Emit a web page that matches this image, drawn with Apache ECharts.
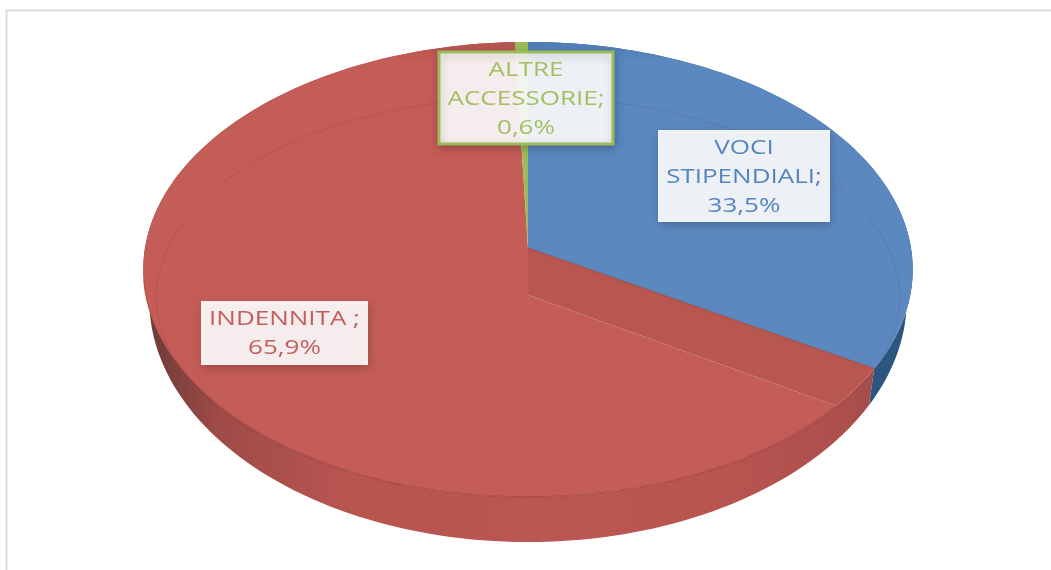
<!DOCTYPE html>
<html>
<head>
<meta charset="utf-8">
<script src="https://cdn.jsdelivr.net/npm/echarts@6/dist/echarts.min.js"></script>
<style>html,body{margin:0;padding:0;background:#fff;overflow:hidden}#c{width:1051px;height:570px;filter:blur(0.6px)}</style>
</head>
<body>
<div id="c"></div>
<script>
// --- data ---
const categories = ['VOCI STIPENDIALI', 'INDENNITA', 'ALTRE ACCESSORIE'];
const shares = [33.5, 65.9, 0.6];
const labelTexts = ['VOCI\nSTIPENDIALI;\n33,5%', 'INDENNITA ;\n65,9%', 'ALTRE\nACCESSORIE;\n0,6%'];

// --- style / view settings ---
const textColors = ['#5585bd', '#c4605c', '#a3c064'];
const labelBoxes = [[658, 130, 172, 92], [201, 301, 167, 64], [439, 52, 174, 92]];
const persp = 0.0945, cx = 528;
const topLayer = {R: 383, s: 225.5, y: 248};
const baseLayer = {R: 377, s: 240, y: 277};
const ringLayer = {R: 370, s: 198, y: 278};
const redFaceDrop = 47, wedgeSweep = 10.4;

function proj(deg, L) {
  const a = deg * Math.PI / 180, X = Math.sin(a), Z = Math.cos(a), w = 1 + persp * Z;
  return [cx + L.R * X / w, L.y - L.s * Z / w];
}
function arc(from, to, L) {
  const n = Math.max(2, Math.ceil(Math.abs(to - from) / 1.5)), out = [];
  for (let i = 0; i <= n; i++) out.push(proj(from + (to - from) * i / n, L));
  return out;
}
let acc = 0;
const spans = shares.map(v => { const s = acc; acc += v; return [s * 3.6, acc * 3.6]; });

function grad(stops) {
  return {type: 'linear', x: 144, y: 0, x2: 914, y2: 0, global: true,
    colorStops: stops.map(s => ({offset: s[0], color: s[1]}))};
}
function vgrad(c1, c2) {
  return {type: 'linear', x: 0, y: 42, x2: 0, y2: 62, global: true,
    colorStops: [{offset: 0, color: c1}, {offset: 1, color: c2}]};
}
const faceColors = [vgrad('#4f7db5', '#5a88bf'), vgrad('#b5534f', '#c45c57'), '#9bbb59'];
const wallFills = [
  grad([[0, '#35628f'], [1, '#2c5680']]),
  grad([[0, '#6b3836'], [0.035, '#7d403e'], [0.1, '#a04b48'], [0.25, '#b65450'], [0.5, '#bb5652'], [0.75, '#b95551'], [0.92, '#ab4f4c'], [1, '#8f4644']]),
  grad([[0, '#7d9647'], [1, '#7d9647']])
];

function wallItem(params, api) {
  const i = api.value(0), sp = spans[i];
  const pts = arc(sp[0], sp[1], topLayer).concat(arc(sp[1], sp[0], baseLayer));
  return {type: 'polygon', shape: {points: pts}, style: {fill: wallFills[i]}};
}
function faceItem(params, api) {
  const i = api.value(0), sp = spans[i];
  const apex = [cx, topLayer.y], low = [cx, topLayer.y + redFaceDrop];
  if (i === 1) {
    const cut = sp[0] + wedgeSweep;
    return {type: 'group', children: [
      {type: 'polygon', shape: {points: [apex].concat(arc(sp[0], cut, topLayer), [low])}, style: {fill: '#b85650'}},
      {type: 'polygon', shape: {points: [low].concat(arc(cut, sp[1], topLayer), [apex])}, style: {fill: faceColors[i]}},
      {type: 'polyline', shape: {points: [proj(sp[0], topLayer), apex]}, style: {fill: null, stroke: 'rgba(150,55,50,0.5)', lineWidth: 1.5}}
    ]};
  }
  return {type: 'polygon', shape: {points: [apex].concat(arc(sp[0], sp[1], topLayer))}, style: {fill: faceColors[i]}};
}
function rimItem() {
  return {type: 'group', children: [
    {type: 'polyline', shape: {points: arc(0, 360, ringLayer)}, style: {fill: null, stroke: 'rgba(90,40,50,0.14)', lineWidth: 1}},
    {type: 'polyline', shape: {points: arc(spans[1][0] + wedgeSweep, 262, topLayer)}, style: {fill: null, stroke: 'rgba(165,60,55,0.55)', lineWidth: 1.2}}
  ]};
}
function labelItem(params, api) {
  const i = api.value(0), b = labelBoxes[i], green = i === 2;
  return {type: 'group', children: [
    {type: 'rect', shape: {x: b[0], y: b[1], width: b[2], height: b[3]},
      style: {fill: 'rgba(255,255,255,0.9)', stroke: green ? '#9bbb59' : null, lineWidth: green ? 3 : 0,
        shadowBlur: 8, shadowOffsetX: 1, shadowOffsetY: 3, shadowColor: 'rgba(0,0,0,0.22)'}},
    {type: 'text', x: b[0] + b[2] / 2, y: b[1] + b[3] / 2 + 1, scaleX: 1.3,
      style: {text: labelTexts[i], fill: textColors[i], font: '20px "Open Sans", sans-serif',
        align: 'center', verticalAlign: 'middle', lineHeight: 29}}
  ]};
}
const seriesData = categories.map((name, i) => ({name: name, value: [i, shares[i]]}));
function layer(fn, z, data) {
  return {type: 'custom', coordinateSystem: 'none', renderItem: fn, data: data || seriesData,
    z: z, silent: true, animation: false, clip: false};
}
const chart = echarts.init(document.getElementById('c'), null, {renderer: 'canvas'});
chart.setOption({
  animation: false,
  backgroundColor: '#fff',
  graphic: [{type: 'polyline', z: 0, silent: true,
    shape: {points: [[6.5, 572], [6.5, 10.5], [1053, 10.5]]},
    style: {fill: null, stroke: '#dcdcdc', lineWidth: 2}}],
  series: [
    layer(wallItem, 1),
    layer(faceItem, 2),
    layer(rimItem, 3, [{name: 'rim', value: [0, 0]}]),
    layer(labelItem, 4)
  ]
});
</script>
</body>
</html>
